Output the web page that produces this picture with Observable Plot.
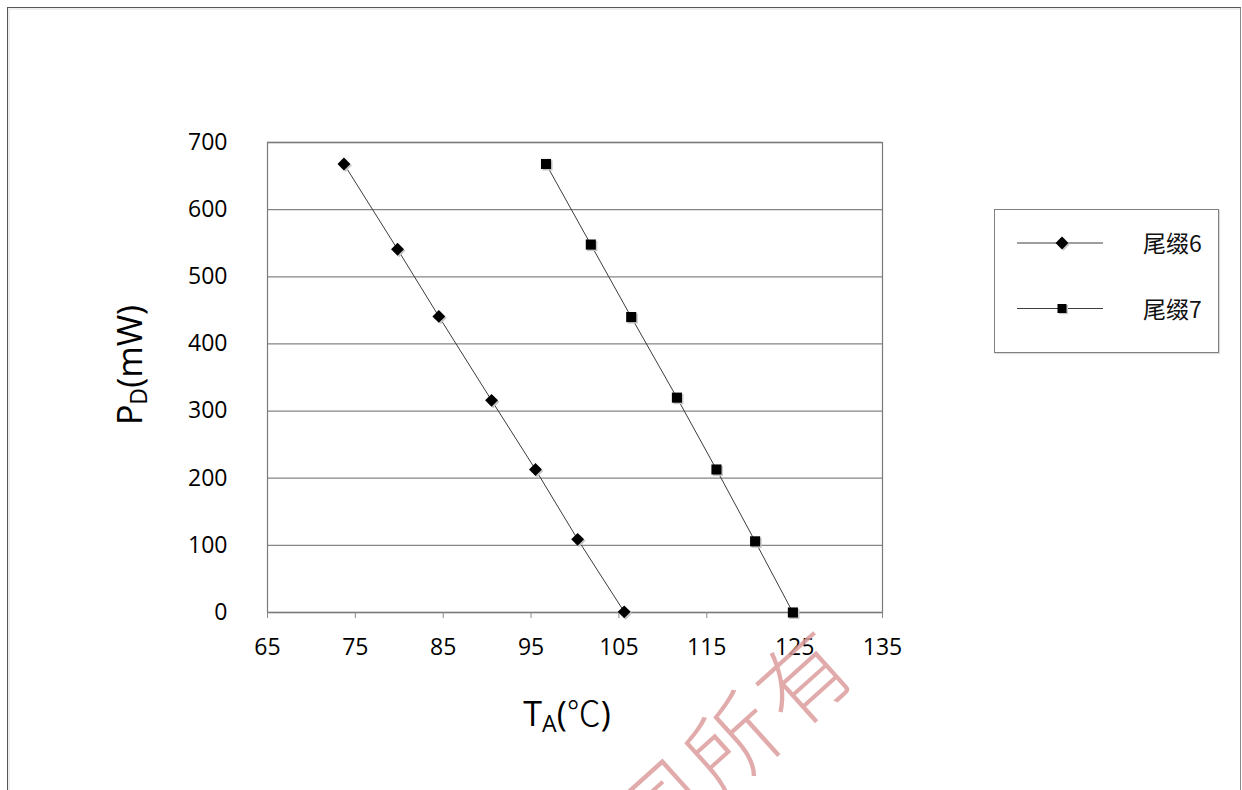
<!DOCTYPE html>
<html>
<head>
<meta charset="utf-8">
<script src="https://cdn.jsdelivr.net/npm/d3@7"></script>
<script src="https://cdn.jsdelivr.net/npm/@observablehq/plot@0.6"></script>
<style>
  html, body { margin: 0; padding: 0; background: #fff; }
  #wrap { position: relative; width: 1242px; height: 790px; overflow: hidden; background: #fff; }
  #chart { position: absolute; left: 0; top: 0; }
  #outer { position: absolute; left: 7px; top: 7px; width: 1232px; height: 820px;
           border-left: 1.5px solid #555; border-top: 1.5px solid #555; border-right: 1.5px solid #8a8a8a;
           box-shadow: inset 2px 2px 0 #eee; pointer-events: none; }
  .title { position: absolute; font-family: "Open Sans", sans-serif; font-size: 34px; color: #000; white-space: nowrap; line-height: 1; }
  .title sub { font-size: 0.68em; vertical-align: -0.25em; }
  #ytitle { left: 131px; top: 365px; transform: translate(-50%, -50%) rotate(-90deg); }
  #xtitle { left: 567px; top: 715px; transform: translate(-50%, -50%); }
  .deg { font-family: "Noto Sans CJK SC", serif; font-weight: 300; }
  #legend { position: absolute; left: 994px; top: 209px; width: 223px; height: 142px;
            border: 1px solid #7f7f7f; box-shadow: 1px 1px 1px #ddd; background: #fff; }
  #wm { position: absolute; left: 0; top: 0; pointer-events: none; }
</style>
</head>
<body>
<div id="wrap">
  <div id="outer"></div>
  <div id="chart"></div>
  <div id="ytitle" class="title">P<sub>D</sub>(mW)</div>
  <div id="xtitle" class="title">T<sub>A</sub>(<span class="deg">℃</span>)</div>
  <div id="legend"></div>
</div>
<script>
// ---- data ----
const seriesNames = ["尾缀6", "尾缀7"];
const temps6 = [73.7, 79.8, 84.5, 90.5, 95.5, 100.3, 105.6];
const power6 = [668, 541, 441, 316, 213, 109, 1];
const temps7 = [96.7, 101.8, 106.4, 111.6, 116.1, 120.5, 124.8];
const power7 = [668, 548, 440, 320, 213, 106, 0];
const xTicks = [65, 75, 85, 95, 105, 115, 125, 135];
const yTicks = [0, 100, 200, 300, 400, 500, 600, 700];
const watermarkText = "公司所有";

const d6 = temps6.map((t, i) => ({t, p: power6[i], s: seriesNames[0]}));
const d7 = temps7.map((t, i) => ({t, p: power7[i], s: seriesNames[1]}));

const lineColor = "#3c3c3c";
const chart = Plot.plot({
  width: 1242,
  height: 790,
  marginLeft: 267,
  marginRight: 360,
  marginTop: 142,
  marginBottom: 178,
  x: {domain: [65, 135]},
  y: {domain: [0, 700]},
  style: {fontFamily: "'Open Sans', sans-serif", fontSize: "23px", color: "#000", background: "transparent"},
  marks: [
    Plot.ruleY(yTicks, {stroke: "#858585", strokeWidth: 1.3}),
    Plot.frame({stroke: "#7a7a7a", strokeWidth: 1.2}),
    Plot.axisX({ticks: xTicks, tickSize: 6, tickPadding: 20, label: null, stroke: "#888", fill: "#000", fontSize: 23, tickFormat: d => String(d)}),
    Plot.axisY({ticks: yTicks, tickSize: 0, tickPadding: 40, label: null, fill: "#000", fontSize: 23, tickFormat: d => String(d)}),
    Plot.line(d6, {x: "t", y: "p", stroke: lineColor, strokeWidth: 1}),
    Plot.line(d7, {x: "t", y: "p", stroke: lineColor, strokeWidth: 1}),
    Plot.dot(d6, {x: "t", y: "p", symbol: "diamond2", r: 5.8, fill: "#c8c8c8", stroke: "none", dx: 1.5, dy: 1.5}),
    Plot.dot(d7, {x: "t", y: "p", symbol: "square", r: 5.7, fill: "#c8c8c8", stroke: "none", dx: 1.5, dy: 1.5}),
    Plot.dot(d6, {x: "t", y: "p", symbol: "diamond2", r: 5.8, fill: "#000", stroke: "none"}),
    Plot.dot(d7, {x: "t", y: "p", symbol: "square", r: 5.7, fill: "#000", stroke: "none"})
  ]
});
document.getElementById("chart").appendChild(chart);

// ---- legend ----
const lg = d3.select("#legend").append("svg").attr("width", 223).attr("height", 142);
const symbols = [d3.symbol(d3.symbolDiamond2, Math.PI * 5.8 * 5.8), d3.symbol(d3.symbolSquare, Math.PI * 5.7 * 5.7 * 0.8)];
seriesNames.forEach((name, i) => {
  const cy = 33 + i * 65.5;
  const g = lg.append("g");
  g.append("line").attr("x1", 22).attr("x2", 108).attr("y1", cy).attr("y2", cy).attr("stroke", lineColor).attr("stroke-width", 1);
  g.append("path").attr("d", symbols[i]()).attr("transform", `translate(${68.5},${cy + 1.2})`).attr("fill", "#c8c8c8");
  g.append("path").attr("d", symbols[i]()).attr("transform", `translate(${67},${cy})`).attr("fill", "#000");
  g.append("text").attr("x", 148).attr("y", cy + 9).attr("font-family", "'Noto Sans CJK SC', sans-serif")
    .attr("font-size", 23).attr("fill", "#111").text(name);
});

// ---- watermark ----
const wm = d3.select("#wrap").append("svg").attr("id", "wm").attr("width", 1242).attr("height", 790);
wm.append("text")
  .attr("x", 864).attr("y", 670)
  .attr("text-anchor", "end")
  .attr("transform", "rotate(-42, 864, 670)")
  .attr("font-family", "'Noto Sans CJK SC', sans-serif")
  .attr("font-size", 90)
  .attr("font-weight", 300)
  .attr("letter-spacing", 6)
  .attr("fill", "#dc9c9c")
  .attr("fill-opacity", 0.85)
  .text(watermarkText);
</script>
</body>
</html>
